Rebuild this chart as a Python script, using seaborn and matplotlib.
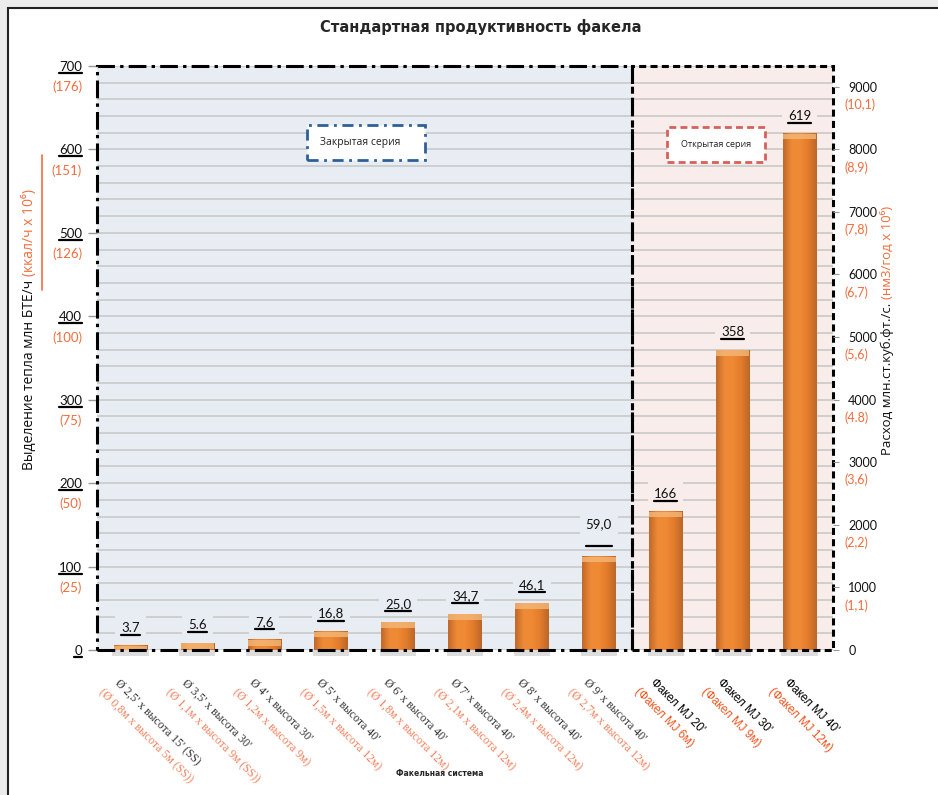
import matplotlib
matplotlib.use("Agg")
import matplotlib.pyplot as plt
import matplotlib.transforms as mtransforms
from matplotlib.patches import Rectangle
from matplotlib.lines import Line2D
from matplotlib.colors import LinearSegmentedColormap
import numpy as np
import pandas as pd
import seaborn as sns

# --- data ---
flare_names = ["Ø 2,5' х высота 15' (SS)", "Ø 3,5' х высота 30'", "Ø 4' х высота 30'",
               "Ø 5' х высота 40'", "Ø 6' х высота 40'", "Ø 7' х высота 40'",
               "Ø 8' х высота 40'", "Ø 9' х высота 40'",
               "Факел MJ 20'", "Факел MJ 30'", "Факел MJ 40'"]
flare_names_metric = ["(Ø 0,8м х высота 5м (SS))", "(Ø 1,1м х высота 9м (SS))", "(Ø 1,2м х высота 9м)",
                      "(Ø 1,5м х высота 12м)", "(Ø 1,8м х высота 12м)", "(Ø 2,1м х высота 12м)",
                      "(Ø 2,4м х высота 12м)", "(Ø 2,7м х высота 12м)",
                      "(Факел MJ 6м)", "(Факел MJ 9м)", "(Факел MJ 12м)"]
series = ["Закрытая серия"] * 8 + ["Открытая серия"] * 3
bar_heights = [5, 8, 12, 22, 33, 43, 56, 112, 166, 359, 619]
value_labels = ["3.7", "5.6", "7,6", "16,8", "25,0", "34,7", "46,1", "59,0", "166", "358", "619"]

left_ticks = [0, 100, 200, 300, 400, 500, 600, 700]
left_ticks_kcal = ["", "(25)", "(50)", "(75)", "(100)", "(126)", "(151)", "(176)"]
right_ticks = [0, 1000, 2000, 3000, 4000, 5000, 6000, 7000, 8000, 9000]
right_ticks_nm3 = ["", "(1,1)", "(2,2)", "(3,6)", "(4.8)", "(5,6)", "(6,7)", "(7,8)", "(8,9)", "(10,1)"]

ORANGE = "#f26d3d"
BG_CLOSED = "#e8edf4"
BG_OPEN = "#f8edeb"
SANS = ["Open Sans", "DejaVu Sans"]
NUM = ["Lato", "Open Sans", "DejaVu Sans"]
SERIF = ["Liberation Serif", "DejaVu Serif"]

sns.set_style("white")
plt.rcParams["font.family"] = SANS

df = pd.DataFrame({"flare": flare_names, "heat": bar_heights, "series": series})
n_closed = series.count("Закрытая серия")

fig = plt.figure(figsize=(9.38, 7.95), dpi=100, facecolor="#ececec")
fig.add_artist(Rectangle((8 / 938, -0.05), 1.1, 1.05 - 8 / 795, transform=fig.transFigure,
                         facecolor="white", edgecolor="#222222", lw=1.5, zorder=-1))

ax = fig.add_axes([97 / 938, 1 - 650 / 795, 736 / 938, 584 / 795])
ax.set_facecolor("none")

sns.barplot(data=df, x="flare", y="heat", order=flare_names, color="#e8822c",
            width=0.5, ax=ax, zorder=3, linewidth=0)

# gradient look on the bars
cmap = LinearSegmentedColormap.from_list("bar", ["#c0692a", "#ee8a36", "#ef8934", "#e27c2b", "#bb672a"])
grad = np.linspace(0, 1, 64).reshape(1, -1)
cap = 7.0
for p in list(ax.patches):
    x0, w, h = p.get_x(), p.get_width(), p.get_height()
    ax.imshow(grad, extent=(x0, x0 + w, 0, h), aspect="auto", cmap=cmap, zorder=3.5)
    ax.add_patch(Rectangle((x0, max(h - cap, 0)), w, min(cap, h), facecolor="#f4b878",
                           edgecolor="none", alpha=0.8, zorder=3.6))
    ax.add_patch(Rectangle((x0 - 0.02, -7), w + 0.04, 7, facecolor="#a0a0a0", alpha=0.35,
                           edgecolor="none", zorder=2, clip_on=False))

ax.set_xlim(-0.5, len(flare_names) - 0.5)
ax.set_ylim(0, 700)
ax.set_xlabel("")
ax.set_ylabel("")
ax.tick_params(axis="x", bottom=False, labelbottom=False)

# region backgrounds and borders
split = n_closed - 0.5
ax.axvspan(-0.5, split, color=BG_CLOSED, zorder=0.1)
ax.axvspan(split, len(flare_names) - 0.5, color=BG_OPEN, zorder=0.1)
xtrans = ax.get_xaxis_transform()
ax.add_patch(Rectangle((split, 0), len(flare_names) - n_closed, 1, transform=xtrans, fill=False,
                       ec="black", lw=2.2, ls=(0, (2.3, 1.4)), clip_on=False, zorder=6))
ax.add_patch(Rectangle((-0.5, 0), n_closed, 1, transform=xtrans, fill=False,
                       ec="black", lw=2.2, ls=(0, (5.8, 1.7, 1.1, 1.7)), clip_on=False, zorder=6))

for s in ax.spines.values():
    s.set_visible(False)

ax.set_yticks(left_ticks)
ax.set_yticks(np.arange(0, 701, 20), minor=True)
ax.grid(True, axis="y", which="both", color="#c6c6c6", lw=1.1, zorder=0.5)
ax.set_axisbelow(True)
ax.tick_params(axis="y", which="major", length=6.5, color="#999999", width=1, pad=4.3,
               labelsize=9.5, labelcolor="#111111")
ax.tick_params(axis="y", which="minor", length=0)
for lab in ax.get_yticklabels():
    lab.set_family(NUM)

ytrans_l = mtransforms.blended_transform_factory(ax.transAxes, ax.transData)
for v, t in zip(left_ticks, left_ticks_kcal):
    if t:
        ax.annotate(t, xy=(0, v), xycoords=ytrans_l, xytext=(-15, -21), textcoords="offset pixels",
                    ha="right", va="center", color=ORANGE, fontsize=9.5, family=NUM)

# right axis
ax2 = ax.twinx()
ax2.set_ylim(0, 9330)
ax2.set_yticks(right_ticks)
for s in ax2.spines.values():
    s.set_visible(False)
ax2.tick_params(axis="y", length=4, color="#999999", pad=7, labelsize=9, labelcolor="#111111")
for lab in ax2.get_yticklabels():
    lab.set_family(NUM)
ytrans_r = mtransforms.blended_transform_factory(ax2.transAxes, ax2.transData)
for v, t in zip(right_ticks, right_ticks_nm3):
    if t:
        ax2.annotate(t, xy=(1, v), xycoords=ytrans_r, xytext=(12, -18), textcoords="offset pixels",
                     ha="left", va="center", color=ORANGE, fontsize=9, family=NUM)

# value labels
val_texts = []
for i, (h, t) in enumerate(zip(bar_heights, value_labels)):
    lift = 28 if i == n_closed - 1 else 14
    bg = BG_CLOSED if i < n_closed else BG_OPEN
    txt = ax.annotate(t, xy=(i, h), xytext=(0, lift), textcoords="offset pixels", ha="center",
                      va="baseline", fontsize=9.5, family=NUM, color="#111111", zorder=7,
                      bbox=dict(boxstyle="square,pad=0.45", fc=bg, ec="none"))
    val_texts.append((txt, i, h))

# rotated category labels (two lines, two colours)
for i, (a, b) in enumerate(zip(flare_names, flare_names_metric)):
    mj = series[i] == "Открытая серия"
    fam = ["Liberation Sans", "DejaVu Sans"] if mj else SERIF
    ax.annotate(a, xy=(i, 0), xycoords=xtrans, xytext=(-9, -27), textcoords="offset pixels",
                rotation=-45, rotation_mode="anchor", ha="left", va="top", fontsize=8.5,
                family=fam, color="black" if mj else "#333333", annotation_clip=False)
    ax.annotate(b, xy=(i, 0), xycoords=xtrans, xytext=(-25, -36), textcoords="offset pixels",
                rotation=-45, rotation_mode="anchor", ha="left", va="top", fontsize=8.5,
                family=fam, color="#ee5520" if mj else "#f3805c", annotation_clip=False)

# legend-like boxes
ax.add_patch(Rectangle((0.2853, 0.839), 0.160, 0.060, transform=ax.transAxes, facecolor="white",
                       ec="#2f5f98", lw=2, ls=(0, (4, 2, 1, 2)), zorder=6))
ax.text(0.303, 0.869, "Закрытая серия", transform=ax.transAxes, ha="left", va="center",
        fontsize=7.5, family=SANS, color="#222222", zorder=7)
ax.add_patch(Rectangle((0.7745, 0.8356), 0.133, 0.060, transform=ax.transAxes, facecolor="white",
                       ec="#d6615b", lw=2, ls=(0, (2.5, 1.5)), zorder=6))
ax.text(0.841, 0.865, "Открытая серия", transform=ax.transAxes, ha="center", va="center",
        fontsize=6.5, family=SANS, color="#222222", zorder=7)

# titles
fig.text(0.512, 1 - 27 / 795, "Стандартная продуктивность факела", ha="center", va="center",
         fontsize=10.5, weight="bold", family=["DejaVu Sans"])
fig.text(440 / 938, 1 - 773 / 795, "Факельная система", ha="center", va="center",
         fontsize=5.5, weight="bold", family=["DejaVu Sans"])

yl1 = fig.text(30 / 938, 1 - 470 / 795, "Выделение тепла млн БТЕ/ч ", rotation=90, ha="center",
               va="bottom", fontsize=10, family=SANS, color="#111111")
yr1 = fig.text(887 / 938, 1 - 455 / 795, "Расход млн.ст.куб.фт./с. ", rotation=90, ha="center",
               va="bottom", fontsize=9.5, family=SANS, color="#111111")

fig.canvas.draw()
r = fig.canvas.get_renderer()
inv = fig.transFigure.inverted()

bb = yl1.get_window_extent(r)
fig.text(30 / 938, inv.transform((0, bb.y1))[1], "(ккал/ч x 10⁶)", rotation=90, ha="center",
         va="bottom", fontsize=10, family=SANS, color=ORANGE)
bb = yr1.get_window_extent(r)
fig.text(887 / 938, inv.transform((0, bb.y1))[1], "(нм3/год x 10⁶)", rotation=90, ha="center",
         va="bottom", fontsize=9.5, family=SANS, color=ORANGE)
fig.add_artist(Line2D([42 / 938, 42 / 938], [1 - 290 / 795, 1 - 155 / 795], color=ORANGE, lw=1.2,
                      transform=fig.transFigure))

# underlines
ident = mtransforms.IdentityTransform()
for lab in ax.get_yticklabels():
    b = lab.get_window_extent(r)
    fig.add_artist(Line2D([b.x0, b.x1], [b.y0, b.y0], color="black", lw=1.6, transform=ident))
for txt, i, h in val_texts:
    b = txt.get_window_extent(r)
    base = ax.transData.transform((i, h))[1] + 11
    fig.add_artist(Line2D([b.x0, b.x1], [base, base], color="black", lw=1.6, transform=ident,
                          zorder=8))

fig.savefig("out.png", dpi=100)
